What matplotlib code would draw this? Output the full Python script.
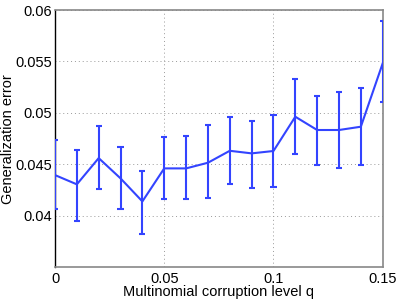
import matplotlib
matplotlib.use("Agg")
import matplotlib.pyplot as plt
import numpy as np

q = [0.00, 0.01, 0.02, 0.03, 0.04, 0.05, 0.06, 0.07, 0.08, 0.09, 0.10, 0.11, 0.12, 0.13, 0.14, 0.15]
err_mean = [0.04396, 0.04306, 0.04561, 0.04364, 0.04140, 0.04461, 0.04461, 0.04516, 0.04632, 0.04607,
            0.04630, 0.04963, 0.04834, 0.04834, 0.04866, 0.05482]
err_low = [0.04063, 0.03952, 0.04257, 0.04063, 0.03820, 0.04163, 0.04163, 0.04176, 0.04306, 0.04273,
           0.04283, 0.04600, 0.04496, 0.04464, 0.04493, 0.05109]
err_high = [0.04737, 0.04642, 0.04876, 0.04671, 0.04438, 0.04768, 0.04775, 0.04885, 0.04960, 0.04924,
            0.04982, 0.05332, 0.05167, 0.05203, 0.05245, 0.05896]
x_ticks = [0, 0.05, 0.1, 0.15]
x_tick_labels = ["0", "0.05", "0.1", "0.15"]
y_ticks = [0.04, 0.045, 0.05, 0.055, 0.06]
y_tick_labels = ["0.04", "0.045", "0.05", "0.055", "0.06"]

plt.rcParams['font.family'] = ['Liberation Sans', 'DejaVu Sans']

fig = plt.figure(figsize=(3.99, 3.01), dpi=100)
ax = fig.add_axes([55/399, 1 - 267.3/301, (382.7 - 55)/399, (267.3 - 10)/301])

color = '#3344ff'
ax.plot(q, err_mean, color=color, lw=1.5, zorder=3)
ax.vlines(q, err_low, err_high, color=color, lw=1.5, zorder=3)
cap_half = 0.0014
qa = np.array(q)
ax.hlines(err_low, qa - cap_half, qa + cap_half, color=color, lw=1.5, zorder=3)
ax.hlines(err_high, qa - cap_half, qa + cap_half, color=color, lw=1.5, zorder=3)

ax.set_xlim(0, 0.15)
ax.set_ylim(0.035, 0.06)
ax.set_xticks(x_ticks)
ax.set_xticklabels(x_tick_labels)
ax.set_yticks(y_ticks)
ax.set_yticklabels(y_tick_labels)
ax.tick_params(axis='x', length=0, labelsize=10.5, pad=3.5, colors='black')
ax.tick_params(axis='y', length=0, labelsize=10.5, pad=2, colors='black')
ax.grid(True, linestyle=(0, (1, 3)), color='#999999', lw=0.7)
ax.set_axisbelow(True)

for s in ['top', 'right', 'bottom']:
    ax.spines[s].set_color('#888888')
    ax.spines[s].set_linewidth(1.2)
ax.spines['left'].set_color('black')
ax.spines['left'].set_linewidth(1.0)

ax.set_xlabel('Multinomial corruption level q', fontsize=10.5)
ax.set_ylabel('Generalization error', fontsize=10.5)
ax.xaxis.set_label_coords(0.5, (267.3 - 291.7) / 257.3, transform=ax.transAxes)
ax.yaxis.set_label_coords((8 - 55) / 327.7, 0.5, transform=ax.transAxes)
ax.xaxis.label.set_va('center')
ax.yaxis.label.set_va('center')

fig.savefig('out.png', dpi=100)
